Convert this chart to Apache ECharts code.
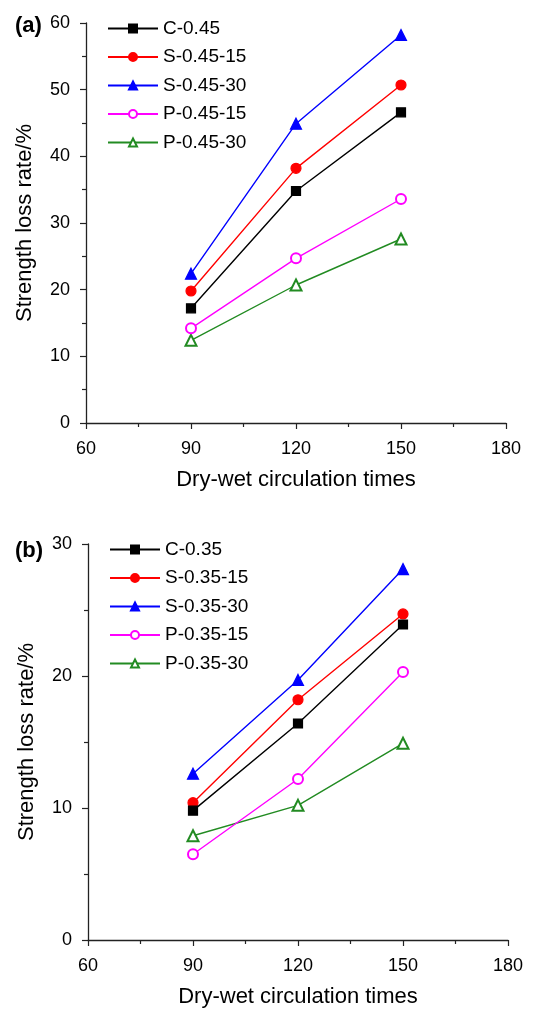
<!DOCTYPE html>
<html><head><meta charset="utf-8">
<script src="https://cdn.jsdelivr.net/npm/echarts@6/dist/echarts.min.js"></script>
<style>html,body{margin:0;padding:0;background:#fff}#c{width:541px;height:1009px}</style>
</head><body><div id="c"></div>
<script>
const xCats = [90, 120, 150];
const namesA = ['C-0.45', 'S-0.45-15', 'S-0.45-30', 'P-0.45-15', 'P-0.45-30'];
const C045 = [17.2, 34.8, 46.6];
const S045_15 = [19.8, 38.2, 50.7];
const S045_30 = [22.4, 44.9, 58.2];
const P045_15 = [14.2, 24.7, 33.6];
const P045_30 = [12.4, 20.7, 27.6];
const namesB = ['C-0.35', 'S-0.35-15', 'S-0.35-30', 'P-0.35-15', 'P-0.35-30'];
const C035 = [9.8, 16.4, 23.9];
const S035_15 = [10.4, 18.2, 24.7];
const S035_30 = [12.6, 19.7, 28.1];
const P035_15 = [6.5, 12.2, 20.3];
const P035_30 = [7.9, 10.2, 14.9];
const xTicks = [60, 90, 120, 150, 180];
const yTicksA = [0, 10, 20, 30, 40, 50, 60];
const yTicksB = [0, 10, 20, 30];

const FONT = '"Liberation Sans", Arial, Helvetica, sans-serif';
const colors = ['#000000', '#ff0000', '#0000ff', '#ff00ff', '#228b22'];
const symbols = ['rect', 'circle', 'triangle', 'emptyCircle', 'emptyTriangle'];
const sizes = [9, 10, 11, 10, 11];

const axisCommon = {
  axisLine: {show: true, lineStyle: {color: '#222', width: 1.3}},
  axisTick: {show: true, inside: false, length: 6, lineStyle: {color: '#222', width: 1.2}},
  minorTick: {show: true, splitNumber: 2, length: 4, lineStyle: {color: '#222', width: 1.2}},
  splitLine: {show: false},
  axisLabel: {color: '#000', fontSize: 18, fontFamily: FONT, margin: 16},
  nameTextStyle: {color: '#000', fontSize: 22, fontFamily: FONT},
  nameLocation: 'middle'
};
function xAxis(gi) {
  return Object.assign({}, axisCommon, {
    type: 'value', gridIndex: gi, min: xTicks[0], max: xTicks[xTicks.length - 1], interval: 30,
    name: 'Dry-wet circulation times', nameGap: 46,
    axisLabel: Object.assign({}, axisCommon.axisLabel, {margin: 17})
  });
}
function yAxis(gi, ticks) {
  return Object.assign({}, axisCommon, {
    type: 'value', gridIndex: gi, min: ticks[0], max: ticks[ticks.length - 1], interval: 10,
    name: 'Strength loss rate/%', nameGap: 50
  });
}
function mk(names, arrs, gi) {
  return arrs.map((a, i) => ({
    name: names[i], type: 'line', xAxisIndex: gi, yAxisIndex: gi,
    data: xCats.map((x, j) => [x, a[j]]),
    symbol: symbols[i], symbolSize: sizes[i],
    lineStyle: {color: colors[i], width: 1.4},
    itemStyle: {color: colors[i], borderColor: colors[i], borderWidth: 1.2},
    z: 10 - i
  }));
}
function legend(names, left, top) {
  return {
    data: names, orient: 'vertical', left: left, top: top, padding: 0,
    itemWidth: 50, itemHeight: 10, itemGap: 9.5,
    textStyle: {color: '#000', fontSize: 19, fontFamily: FONT}
  };
}
const chart = echarts.init(document.getElementById('c'), null, {renderer: 'canvas'});
chart.setOption({
  animation: false,
  title: [
    {text: '(a)', left: 10, top: 10, textStyle: {fontSize: 22, fontWeight: 'bold', fontFamily: FONT, color: '#000'}},
    {text: '(b)', left: 10, top: 535, textStyle: {fontSize: 22, fontWeight: 'bold', fontFamily: FONT, color: '#000'}}
  ],
  grid: [
    {left: 86, top: 23, width: 420, height: 400},
    {left: 88, top: 544, width: 420, height: 400}
  ],
  xAxis: [xAxis(0), xAxis(1)],
  yAxis: [yAxis(0, yTicksA), yAxis(1, yTicksB)],
  legend: [legend(namesA, 107, 19), legend(namesB, 109, 540)],
  series: mk(namesA, [C045, S045_15, S045_30, P045_15, P045_30], 0)
    .concat(mk(namesB, [C035, S035_15, S035_30, P035_15, P035_30], 1))
});
</script></body></html>
